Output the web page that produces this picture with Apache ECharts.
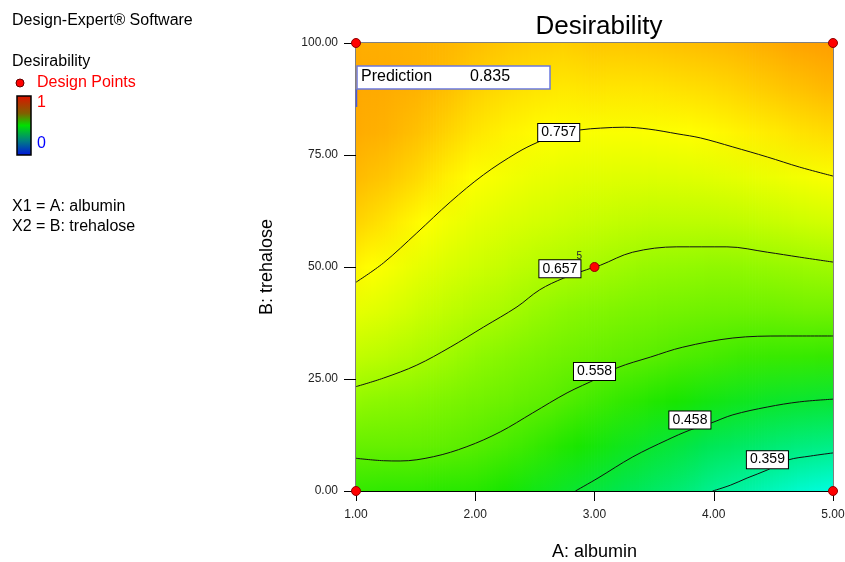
<!DOCTYPE html>
<html>
<head>
<meta charset="utf-8">
<script src="https://cdn.jsdelivr.net/npm/echarts@6/dist/echarts.min.js"></script>
<style>html,body{margin:0;padding:0;background:#fff}#c{width:845px;height:562px}</style>
</head>
<body>
<div id="c"></div>
<script>
// ---------------- DATA ----------------
const gridA = [1.00, 1.25, 1.50, 1.75, 2.00, 2.25, 2.50, 2.75, 3.00, 3.25, 3.50, 3.75, 4.00, 4.25, 4.50, 4.75, 5.00];
const gridB = [0, 10, 20, 30, 40, 50, 60, 70, 80, 90, 100];
// desirability[i][j] : value at A = gridA[i], B = gridB[j]
const desirability = [
  [0.525, 0.575, 0.637, 0.685, 0.728, 0.770, 0.808, 0.836, 0.852, 0.856, 0.850],
  [0.520, 0.575, 0.627, 0.676, 0.716, 0.752, 0.790, 0.822, 0.845, 0.852, 0.848],
  [0.520, 0.572, 0.620, 0.664, 0.697, 0.731, 0.766, 0.803, 0.830, 0.845, 0.845],
  [0.515, 0.565, 0.608, 0.651, 0.683, 0.714, 0.745, 0.779, 0.810, 0.832, 0.840],
  [0.513, 0.555, 0.595, 0.635, 0.670, 0.698, 0.728, 0.758, 0.788, 0.812, 0.830],
  [0.500, 0.543, 0.582, 0.620, 0.659, 0.688, 0.716, 0.745, 0.774, 0.800, 0.822],
  [0.482, 0.527, 0.567, 0.605, 0.642, 0.675, 0.705, 0.734, 0.764, 0.790, 0.815],
  [0.465, 0.508, 0.551, 0.590, 0.628, 0.666, 0.696, 0.726, 0.757, 0.785, 0.812],
  [0.447, 0.492, 0.536, 0.578, 0.617, 0.657, 0.690, 0.722, 0.754, 0.790, 0.822],
  [0.430, 0.475, 0.522, 0.566, 0.607, 0.648, 0.684, 0.718, 0.753, 0.788, 0.822],
  [0.410, 0.458, 0.508, 0.557, 0.599, 0.640, 0.679, 0.717, 0.755, 0.790, 0.825],
  [0.390, 0.443, 0.497, 0.547, 0.593, 0.637, 0.679, 0.719, 0.759, 0.795, 0.830],
  [0.359, 0.423, 0.483, 0.541, 0.586, 0.634, 0.680, 0.722, 0.765, 0.800, 0.835],
  [0.342, 0.409, 0.473, 0.532, 0.585, 0.635, 0.684, 0.729, 0.774, 0.810, 0.842],
  [0.320, 0.393, 0.464, 0.529, 0.585, 0.640, 0.690, 0.737, 0.782, 0.820, 0.852],
  [0.300, 0.380, 0.458, 0.527, 0.590, 0.645, 0.697, 0.746, 0.792, 0.830, 0.862],
  [0.285, 0.371, 0.454, 0.525, 0.590, 0.650, 0.703, 0.755, 0.800, 0.840, 0.870]
];

const contourLevels = [0.359, 0.458, 0.558, 0.657, 0.757];
const contour359 = [[3.99,0],[4.14,1.3],[4.28,2.9],[4.45,4.7],[4.62,6.9],[4.81,7.8],[5.00,8.5]];
const contour458 = [[2.84,0],[3.03,2.9],[3.32,7.6],[3.61,11.4],[3.80,13.6],[3.98,15.2],[4.16,17.0],[4.45,18.75],[4.72,19.9],[5.00,20.5]];
const contour558 = [[1.00,7.3],[1.23,6.76],[1.37,6.7],[1.65,7.66],[1.93,9.9],[2.21,13.2],[2.48,17.4],[2.77,21.9],[3.03,25.2],[3.19,27.5],[3.47,29.9],[3.74,32.1],[4.16,34.15],[4.58,34.6],[5.00,34.6]];
const contour657 = [[1.00,23.3],[1.23,25.2],[1.51,28.1],[1.79,32.1],[2.07,36.6],[2.35,41.1],[2.54,44.9],[2.74,47.5],[3.00,50.0],[3.05,50.4],[3.32,53.3],[3.69,54.5],[4.11,54.5],[4.45,53.3],[4.72,52.2],[5.00,51.1]];
const contour757 = [[1.00,46.6],[1.23,50.9],[1.51,57.6],[1.79,64.5],[2.07,70.6],[2.35,75.5],[2.52,77.8],[2.70,79.6],[2.88,80.6],[3.05,81.0],[3.25,81.2],[3.45,80.8],[3.70,79.7],[3.89,78.8],[4.16,76.8],[4.45,74.55],[4.72,72.3],[5.00,70.3]];
const contourLabelPos = [[4.45,7.0],[3.80,15.85],[3.00,26.7],[2.71,49.6],[2.70,80.0]];

const designA = [1, 1, 5, 5, 3];
const designB = [0, 100, 0, 100, 50];
const designCount = [1, 1, 1, 1, 5];

const xTicks = [1, 2, 3, 4, 5];
const yTicks = [0, 25, 50, 75, 100];
const prediction = 0.835;

// ---------------- STYLE ----------------
const FONT = "'Liberation Sans', Arial, sans-serif";
const paletteValues = [0.27, 0.36, 0.43, 0.50, 0.56, 0.63, 0.70, 0.76, 0.86, 0.96];
const paletteColors = ['#00ffee', '#00f090', '#00e650', '#18e600', '#5cee00', '#8cf800', '#d0ff00', '#ffff00', '#ffa400', '#ff6000'];

function hexToRgb(h) { return [parseInt(h.substr(1,2),16), parseInt(h.substr(3,2),16), parseInt(h.substr(5,2),16)]; }
const paletteRgb = paletteColors.map(hexToRgb);
function colorFor(v) {
  const n = paletteValues.length;
  if (v <= paletteValues[0]) return paletteColors[0];
  if (v >= paletteValues[n-1]) return paletteColors[n-1];
  for (let k = 0; k < n - 1; k++) {
    if (v <= paletteValues[k+1]) {
      const t = (v - paletteValues[k]) / (paletteValues[k+1] - paletteValues[k]);
      const a = paletteRgb[k], b = paletteRgb[k+1];
      return 'rgb(' + [0,1,2].map(c => Math.round(a[c] + (b[c]-a[c]) * t)).join(',') + ')';
    }
  }
}

const xMin = xTicks[0], xMax = xTicks[xTicks.length-1];
const yMin = yTicks[0], yMax = yTicks[yTicks.length-1];
const SHADE_STRIPS = 10; // render-time shading between neighbouring sample columns

// each item covers the interval between two sampled columns; shaded smoothly
function renderInterval(params, api) {
  const i = params.dataIndex;
  const a0 = gridA[i], a1 = gridA[i + 1];
  const v0 = desirability[i], v1 = desirability[i + 1];
  const children = [];
  for (let s = 0; s < SHADE_STRIPS; s++) {
    const t = (s + 0.5) / SHADE_STRIPS;
    const tl = api.coord([a0 + (a1 - a0) * s / SHADE_STRIPS, yMax]);
    const br = api.coord([a0 + (a1 - a0) * (s + 1) / SHADE_STRIPS, yMin]);
    const stops = gridB.map((b, j) => ({
      offset: (yMax - b) / (yMax - yMin),
      color: colorFor(v0[j] * (1 - t) + v1[j] * t)
    })).sort((p, q) => p.offset - q.offset);
    children.push({
      type: 'rect',
      shape: { x: tl[0] - 0.4, y: tl[1], width: br[0] - tl[0] + 0.8, height: br[1] - tl[1] },
      style: { fill: new echarts.graphic.LinearGradient(0, 0, 0, 1, stops) }
    });
  }
  return { type: 'group', children };
}

const contours = [contour359, contour458, contour558, contour657, contour757];
const lineSeries = contours.map((pts, k) => ({
  type: 'line', name: 'c' + contourLevels[k], data: pts, smooth: 0.35, symbol: 'none',
  lineStyle: { color: '#111', width: 1 }, z: 3, silent: true, animation: false
}));

const chart = echarts.init(document.getElementById('c'), null, { renderer: 'canvas' });
const textBase = { fontFamily: FONT };

chart.setOption({
  animation: false,
  backgroundColor: '#fff',
  title: {
    text: 'Desirability', left: 594, top: 9, textAlign: 'center',
    textStyle: { fontFamily: FONT, fontSize: 26, fontWeight: 'normal', color: '#000' }
  },
  grid: { left: 356, top: 43, width: 477, height: 448, show: true, borderColor: '#000', borderWidth: 1,
          backgroundColor: 'transparent', containLabel: false, outerBoundsMode: 'none' },
  xAxis: {
    type: 'value', min: xMin, max: xMax, interval: 1,
    name: 'A: albumin', nameLocation: 'middle', nameGap: 52,
    nameTextStyle: { fontFamily: FONT, fontSize: 18, color: '#000' },
    axisLine: { lineStyle: { color: '#000' } },
    axisTick: { length: 10, lineStyle: { color: '#000' } },
    axisLabel: { formatter: v => v.toFixed(2), fontFamily: FONT, fontSize: 12, color: '#222', margin: 18 },
    splitLine: { show: false }
  },
  yAxis: {
    type: 'value', min: yMin, max: yMax, interval: 25,
    name: 'B: trehalose', nameLocation: 'middle', nameGap: 80, nameRotate: 90,
    nameTextStyle: { fontFamily: FONT, fontSize: 18, color: '#000' },
    axisLine: { show: true, lineStyle: { color: '#000' } },
    axisTick: { show: true, length: 12, lineStyle: { color: '#000' } },
    axisLabel: { formatter: v => v.toFixed(2), fontFamily: FONT, fontSize: 12, color: '#222', margin: 18 },
    splitLine: { show: false }
  },
  series: [
    {
      type: 'custom', name: 'surface', renderItem: renderInterval, clip: true, z: 1, silent: true,
      data: gridA.slice(0, -1).map(a => [a]), encode: { x: 0 }
    },
    ...lineSeries,
    {
      type: 'scatter', name: 'labels', symbolSize: 0, z: 5, silent: true,
      itemStyle: { opacity: 1 },
      data: contourLabelPos.map((p, k) => ({ value: p, name: contourLevels[k].toFixed(3) })),
      label: {
        show: true, position: 'inside', formatter: p => p.name, opacity: 1,
        fontFamily: FONT, fontSize: 14, color: '#000', backgroundColor: '#ffffff',
        borderColor: '#000', borderWidth: 1, padding: [2, 3, 1, 3]
      }
    },
    {
      type: 'scatter', name: 'Design Points', symbol: 'circle', symbolSize: 9, z: 6, clip: false,
      data: designA.map((a, k) => ({ value: [a, designB[k]], cnt: designCount[k] })),
      itemStyle: { color: '#ff0000', borderColor: '#900000', borderWidth: 1, opacity: 1 },
      label: {
        show: true, formatter: p => (p.data.cnt > 1 ? String(p.data.cnt) : ''),
        position: [-13, -11], fontFamily: FONT, fontSize: 10, color: '#223'
      }
    }
  ],
  graphic: [
    { type: 'text', left: 12, top: 13, style: Object.assign({ text: 'Design-Expert® Software', fontSize: 16, fill: '#000' }, textBase) },
    { type: 'text', left: 12, top: 54, style: Object.assign({ text: 'Desirability', fontSize: 16, fill: '#000' }, textBase) },
    { type: 'circle', shape: { cx: 20, cy: 83, r: 4 }, style: { fill: '#ff0000', stroke: '#600000', lineWidth: 1 } },
    { type: 'text', left: 37, top: 75, style: Object.assign({ text: 'Design Points', fontSize: 16, fill: '#ff0000' }, textBase) },
    {
      type: 'rect', shape: { x: 17, y: 96, width: 14, height: 59 },
      style: {
        stroke: '#000', lineWidth: 1.5,
        fill: new echarts.graphic.LinearGradient(0, 0, 0, 1, [
          { offset: 0, color: '#e01000' }, { offset: 0.3, color: '#806000' },
          { offset: 0.5, color: '#00e000' }, { offset: 0.75, color: '#008080' }, { offset: 1, color: '#0010e0' }
        ])
      }
    },
    { type: 'text', left: 37, top: 95, style: Object.assign({ text: '1', fontSize: 16, fill: '#ff0000' }, textBase) },
    { type: 'text', left: 37, top: 136, style: Object.assign({ text: '0', fontSize: 16, fill: '#0000ff' }, textBase) },
    { type: 'text', left: 12, top: 199, style: Object.assign({ text: 'X1 = A: albumin', fontSize: 16, fill: '#000' }, textBase) },
    { type: 'text', left: 12, top: 219, style: Object.assign({ text: 'X2 = B: trehalose', fontSize: 16, fill: '#000' }, textBase) },
    { type: 'line', shape: { x1: 356.5, y1: 89, x2: 356.5, y2: 107 }, style: { stroke: '#4a5ae0', lineWidth: 1.5 }, z: 10 },
    { type: 'rect', shape: { x: 357, y: 66, width: 193, height: 23 }, style: { fill: '#fff', stroke: '#6a78e0', lineWidth: 1.5 }, z: 10 },
    { type: 'text', left: 361, top: 69, z: 11, style: Object.assign({ text: 'Prediction', fontSize: 16, fill: '#000' }, textBase) },
    { type: 'text', left: 470, top: 69, z: 11, style: Object.assign({ text: prediction.toFixed(3), fontSize: 16, fill: '#000' }, textBase) }
  ]
});
</script>
</body>
</html>
